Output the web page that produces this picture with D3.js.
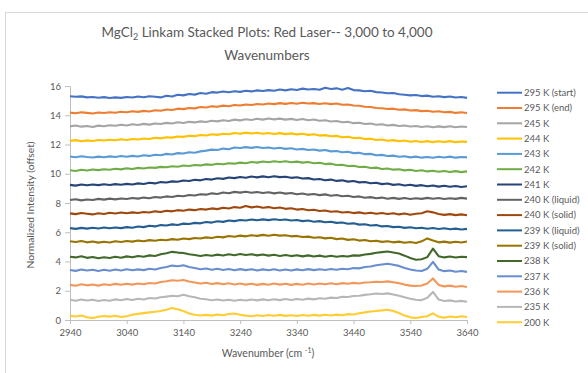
<!DOCTYPE html>
<html>
<head>
<meta charset="utf-8">
<script src="https://cdn.jsdelivr.net/npm/d3@7"></script>
<style>
  html, body { margin: 0; padding: 0; background: #fff; }
  svg { display: block; font-family: Lato, "Open Sans", sans-serif; }
</style>
</head>
<body>
<svg id="chart" width="588" height="373"></svg>
<script>
// Raman spectra, 2940–3640 cm⁻¹, sampled every 10 cm⁻¹, each temperature offset by ~1
const wavenumbers = d3.range(2940, 3641, 10);

const seriesLabels = ["295 K (start)", "295 K (end)", "245 K", "244 K", "243 K", "242 K", "241 K",
  "240 K (liquid)", "240 K (solid)", "239 K (liquid)", "239 K (solid)", "238 K", "237 K",
  "236 K", "235 K", "200 K"];

const seriesColors = ["#4472C4", "#ED7D31", "#A5A5A5", "#FFC000", "#5B9BD5", "#70AD47", "#264478",
  "#636363", "#9E480E", "#255E91", "#997300", "#43682B", "#698ED0", "#F1975A", "#B7B7B7", "#FFCD33"];

const yTicks = [0, 2, 4, 6, 8, 10, 12, 14, 16];
const xTicks = [2940, 3040, 3140, 3240, 3340, 3440, 3540, 3640];

const k295start = [15.30,15.26,15.29,15.22,15.25,15.20,15.24,15.18,15.22,15.19,15.25,15.21,15.28,15.23,15.30,15.26,15.22,15.33,15.28,15.40,15.36,15.45,15.41,15.52,15.47,15.58,15.55,15.62,15.57,15.64,15.60,15.68,15.63,15.70,15.66,15.72,15.68,15.76,15.70,15.78,15.73,15.82,15.76,15.80,15.74,15.88,15.79,15.84,15.75,15.86,15.72,15.70,15.64,15.67,15.58,15.56,15.50,15.52,15.44,15.40,15.36,15.38,15.31,15.34,15.27,15.30,15.24,15.28,15.21,15.25,15.19];
const k295end = [14.18,14.14,14.20,14.16,14.12,14.19,14.15,14.21,14.17,14.24,14.20,14.27,14.23,14.30,14.26,14.34,14.31,14.39,14.36,14.45,14.42,14.50,14.47,14.56,14.53,14.61,14.58,14.66,14.62,14.70,14.67,14.74,14.70,14.77,14.73,14.80,14.76,14.83,14.78,14.84,14.79,14.86,14.80,14.83,14.77,14.82,14.76,14.80,14.72,14.74,14.67,14.65,14.58,14.56,14.50,14.48,14.43,14.45,14.38,14.40,14.33,14.35,14.28,14.31,14.24,14.27,14.20,14.23,14.16,14.20,14.15];
const k245 = [13.24,13.30,13.22,13.27,13.20,13.29,13.25,13.32,13.28,13.35,13.30,13.38,13.33,13.41,13.36,13.44,13.40,13.48,13.44,13.52,13.47,13.55,13.51,13.58,13.54,13.62,13.58,13.66,13.61,13.70,13.65,13.73,13.68,13.76,13.70,13.78,13.72,13.77,13.70,13.75,13.68,13.74,13.66,13.71,13.62,13.66,13.57,13.61,13.52,13.55,13.46,13.49,13.40,13.43,13.35,13.38,13.30,13.34,13.26,13.30,13.23,13.27,13.20,13.25,13.18,13.24,13.19,13.25,13.18,13.23,13.20];
const k244 = [12.25,12.30,12.22,12.28,12.24,12.31,12.27,12.33,12.29,12.36,12.31,12.38,12.34,12.41,12.38,12.46,12.42,12.50,12.47,12.55,12.52,12.60,12.57,12.65,12.61,12.70,12.66,12.74,12.70,12.79,12.74,12.81,12.75,12.80,12.73,12.79,12.72,12.78,12.71,12.76,12.69,12.74,12.66,12.70,12.61,12.64,12.56,12.59,12.50,12.53,12.44,12.46,12.37,12.40,12.31,12.34,12.26,12.30,12.22,12.27,12.19,12.24,12.17,12.23,12.16,12.22,12.17,12.23,12.16,12.21,12.18];
const k243 = [11.18,11.13,11.20,11.15,11.11,11.17,11.13,11.19,11.14,11.21,11.16,11.22,11.18,11.26,11.22,11.30,11.27,11.36,11.32,11.41,11.38,11.47,11.44,11.53,11.58,11.65,11.62,11.72,11.68,11.80,11.76,11.82,11.77,11.83,11.76,11.80,11.73,11.78,11.70,11.74,11.66,11.70,11.62,11.66,11.58,11.62,11.53,11.56,11.47,11.50,11.41,11.43,11.34,11.36,11.27,11.29,11.21,11.24,11.16,11.20,11.12,11.17,11.10,11.15,11.09,11.16,11.11,11.17,11.10,11.15,11.12];
const k242 = [10.24,10.19,10.27,10.22,10.29,10.25,10.31,10.27,10.34,10.30,10.37,10.33,10.40,10.36,10.43,10.40,10.47,10.44,10.51,10.48,10.56,10.53,10.60,10.57,10.64,10.61,10.68,10.65,10.72,10.69,10.76,10.72,10.80,10.76,10.84,10.79,10.85,10.80,10.86,10.79,10.83,10.76,10.80,10.72,10.75,10.66,10.69,10.60,10.62,10.53,10.55,10.46,10.48,10.39,10.42,10.33,10.36,10.28,10.31,10.23,10.27,10.19,10.24,10.16,10.21,10.14,10.19,10.12,10.18,10.11,10.16];
const k241 = [9.24,9.19,9.26,9.21,9.27,9.22,9.28,9.23,9.29,9.25,9.31,9.27,9.34,9.30,9.38,9.34,9.43,9.40,9.48,9.45,9.54,9.50,9.59,9.55,9.64,9.60,9.69,9.65,9.74,9.70,9.78,9.73,9.81,9.75,9.82,9.76,9.83,9.77,9.80,9.72,9.76,9.67,9.70,9.61,9.64,9.56,9.60,9.51,9.55,9.46,9.50,9.41,9.44,9.35,9.38,9.29,9.33,9.24,9.28,9.20,9.25,9.17,9.22,9.14,9.20,9.12,9.18,9.11,9.16,9.09,9.14];
const k240liquid = [8.20,8.26,8.18,8.24,8.21,8.28,8.23,8.30,8.25,8.31,8.27,8.34,8.30,8.37,8.33,8.41,8.37,8.45,8.41,8.50,8.46,8.55,8.51,8.60,8.57,8.66,8.62,8.72,8.67,8.76,8.71,8.77,8.70,8.75,8.68,8.73,8.66,8.72,8.64,8.68,8.60,8.65,8.57,8.62,8.54,8.59,8.50,8.55,8.46,8.50,8.41,8.45,8.36,8.40,8.32,8.37,8.29,8.35,8.28,8.34,8.27,8.33,8.28,8.35,8.29,8.34,8.27,8.33,8.28,8.35,8.30];
const k240solid = [7.29,7.24,7.32,7.27,7.22,7.30,7.25,7.33,7.28,7.35,7.30,7.36,7.32,7.39,7.35,7.43,7.39,7.47,7.43,7.51,7.47,7.55,7.51,7.59,7.55,7.63,7.58,7.67,7.62,7.72,7.68,7.80,7.70,7.76,7.67,7.72,7.64,7.69,7.60,7.64,7.55,7.59,7.50,7.54,7.45,7.49,7.40,7.44,7.35,7.39,7.31,7.36,7.28,7.33,7.26,7.32,7.25,7.30,7.22,7.28,7.20,7.26,7.30,7.44,7.36,7.25,7.19,7.24,7.17,7.22,7.16];
const k239liquid = [6.28,6.23,6.30,6.25,6.31,6.26,6.32,6.27,6.33,6.28,6.35,6.31,6.39,6.35,6.44,6.40,6.49,6.46,6.54,6.50,6.59,6.56,6.64,6.61,6.70,6.66,6.75,6.71,6.80,6.76,6.84,6.80,6.87,6.82,6.88,6.83,6.89,6.84,6.87,6.80,6.84,6.76,6.80,6.72,6.76,6.68,6.72,6.64,6.67,6.58,6.61,6.52,6.55,6.46,6.49,6.40,6.43,6.35,6.38,6.30,6.34,6.27,6.31,6.24,6.29,6.22,6.27,6.20,6.25,6.19,6.23];
const k239solid = [5.38,5.33,5.40,5.31,5.37,5.29,5.35,5.30,5.38,5.33,5.40,5.36,5.43,5.39,5.46,5.42,5.49,5.45,5.53,5.49,5.57,5.53,5.61,5.57,5.65,5.61,5.69,5.65,5.74,5.69,5.77,5.72,5.80,5.75,5.82,5.76,5.83,5.77,5.80,5.72,5.75,5.67,5.70,5.62,5.66,5.58,5.62,5.53,5.57,5.48,5.52,5.43,5.47,5.38,5.42,5.34,5.39,5.31,5.36,5.28,5.33,5.27,5.38,5.58,5.44,5.31,5.36,5.29,5.35,5.30,5.37];
const k238 = [4.33,4.28,4.36,4.25,4.31,4.22,4.29,4.24,4.32,4.26,4.35,4.29,4.38,4.33,4.42,4.38,4.50,4.57,4.66,4.61,4.58,4.50,4.45,4.38,4.44,4.39,4.47,4.41,4.49,4.43,4.51,4.44,4.50,4.42,4.48,4.40,4.46,4.38,4.45,4.37,4.43,4.35,4.42,4.34,4.40,4.33,4.39,4.32,4.38,4.34,4.42,4.40,4.48,4.52,4.60,4.64,4.68,4.62,4.55,4.40,4.24,4.12,4.15,4.30,4.88,4.36,4.28,4.34,4.27,4.33,4.30];
const k237 = [3.42,3.36,3.45,3.38,3.44,3.35,3.43,3.37,3.45,3.39,3.47,3.40,3.46,3.41,3.50,3.45,3.56,3.62,3.72,3.68,3.74,3.62,3.55,3.47,3.52,3.43,3.50,3.42,3.49,3.40,3.48,3.41,3.47,3.39,3.46,3.40,3.47,3.39,3.45,3.38,3.46,3.40,3.48,3.41,3.47,3.42,3.49,3.43,3.50,3.47,3.55,3.53,3.62,3.66,3.74,3.80,3.85,3.78,3.70,3.56,3.45,3.38,3.35,3.50,3.98,3.45,3.34,3.38,3.30,3.35,3.29];
const k236 = [2.40,2.34,2.44,2.37,2.43,2.35,2.45,2.39,2.47,2.41,2.48,2.42,2.50,2.45,2.53,2.50,2.60,2.65,2.72,2.68,2.73,2.63,2.57,2.50,2.55,2.46,2.52,2.44,2.51,2.43,2.49,2.42,2.48,2.40,2.47,2.41,2.49,2.42,2.48,2.40,2.47,2.41,2.49,2.43,2.50,2.44,2.51,2.45,2.52,2.48,2.54,2.50,2.56,2.58,2.62,2.60,2.64,2.58,2.52,2.42,2.35,2.32,2.36,2.50,2.84,2.40,2.30,2.35,2.27,2.32,2.26];
const k235 = [1.38,1.31,1.40,1.33,1.39,1.30,1.37,1.32,1.41,1.35,1.43,1.37,1.45,1.40,1.50,1.47,1.56,1.60,1.66,1.62,1.72,1.63,1.55,1.45,1.42,1.35,1.40,1.33,1.39,1.32,1.38,1.33,1.40,1.34,1.41,1.35,1.42,1.36,1.43,1.37,1.44,1.39,1.46,1.41,1.49,1.45,1.53,1.50,1.58,1.57,1.64,1.66,1.72,1.76,1.81,1.78,1.82,1.74,1.66,1.55,1.45,1.38,1.36,1.52,1.92,1.40,1.30,1.34,1.26,1.31,1.25];
const k200 = [0.28,0.24,0.31,0.18,0.14,0.22,0.27,0.23,0.29,0.21,0.26,0.36,0.42,0.47,0.52,0.56,0.62,0.70,0.82,0.74,0.62,0.45,0.36,0.31,0.35,0.30,0.37,0.33,0.41,0.44,0.36,0.30,0.26,0.32,0.27,0.34,0.29,0.35,0.28,0.33,0.27,0.34,0.29,0.35,0.30,0.36,0.31,0.37,0.33,0.40,0.38,0.46,0.52,0.58,0.62,0.66,0.70,0.62,0.48,0.30,0.18,0.14,0.20,0.26,0.45,0.22,0.16,0.24,0.19,0.26,0.21];

const seriesValues = [k295start, k295end, k245, k244, k243, k242, k241, k240liquid, k240solid,
  k239liquid, k239solid, k238, k237, k236, k235, k200];

const series = seriesLabels.map((label, i) => ({
  label,
  color: seriesColors[i],
  points: wavenumbers.map((w, j) => ({ x: w, y: seriesValues[i][j] }))
}));

const svg = d3.select("#chart");
const textColor = "#595959";
const axisColor = "#bfbfbf";

// chart-area frame
svg.append("rect")
  .attr("x", 5.5).attr("y", 12.5)
  .attr("width", 640).attr("height", 420)
  .attr("fill", "#fff").attr("stroke", "#d9d9d9");

const plot = { left: 70, right: 467, top: 86, bottom: 320 };

const x = d3.scaleLinear().domain([2940, 3640]).range([plot.left, plot.right]);
const y = d3.scaleLinear().domain([0, 16]).range([plot.bottom, plot.top]);

// title
const title = svg.append("text")
  .attr("text-anchor", "middle")
  .attr("fill", textColor)
  .attr("font-size", 13.5);
const t1 = title.append("tspan").attr("x", 267).attr("y", 37);
t1.append("tspan").text("MgCl");
t1.append("tspan").attr("font-size", 9).attr("dy", 3).text("2");
t1.append("tspan").attr("dy", -3).text(" Linkam Stacked Plots: Red Laser-- 3,000 to 4,000");
title.append("tspan").attr("x", 267).attr("y", 60).text("Wavenumbers");

// axes
const xAxis = d3.axisBottom(x).tickValues(xTicks).tickSize(4).tickPadding(5).tickFormat(d3.format("d"));
const yAxis = d3.axisLeft(y).tickValues(yTicks).tickSize(5).tickPadding(4);

const gx = svg.append("g").attr("transform", `translate(0,${plot.bottom})`).call(xAxis);
const gy = svg.append("g").attr("transform", `translate(${plot.left},0)`).call(yAxis);

[gx, gy].forEach(g => {
  g.select(".domain").attr("stroke", axisColor);
  g.selectAll(".tick line").attr("stroke", axisColor);
  g.selectAll(".tick text").attr("fill", textColor).attr("font-size", 9.5)
    .attr("font-family", "Lato, 'Open Sans', sans-serif");
});

// spectra
const line = d3.line().x(d => x(d.x)).y(d => y(d.y));
svg.append("g")
  .selectAll("path")
  .data(series.slice().reverse())
  .join("path")
  .attr("d", d => line(d.points))
  .attr("fill", "none")
  .attr("stroke", d => d.color)
  .attr("stroke-width", 2.1)
  .attr("stroke-linejoin", "round");

// axis titles
svg.append("text")
  .attr("transform", `translate(33.5,${(plot.top + plot.bottom) / 2 + 2}) rotate(-90)`)
  .attr("text-anchor", "middle")
  .attr("fill", textColor)
  .attr("font-size", 10.3)
  .text("Normalized Intensity (offset)");

const xTitle = svg.append("text")
  .attr("x", 268).attr("y", 357)
  .attr("text-anchor", "middle")
  .attr("fill", textColor)
  .attr("font-size", 10.5);
xTitle.append("tspan").text("Wavenumber (cm ");
xTitle.append("tspan").attr("font-size", 7).attr("dy", -4).text("-1");
xTitle.append("tspan").attr("dy", 4).text(")");

// legend
const legend = svg.append("g")
  .selectAll("g")
  .data(series)
  .join("g")
  .attr("transform", (d, i) => `translate(497,${92.7 + i * 15.3})`);
legend.append("line")
  .attr("x1", 0).attr("x2", 25)
  .attr("stroke", d => d.color)
  .attr("stroke-width", 2);
legend.append("text")
  .attr("x", 27).attr("y", 3.3)
  .attr("fill", textColor)
  .attr("font-size", 9.5)
  .text(d => d.label);
</script>
</body>
</html>
